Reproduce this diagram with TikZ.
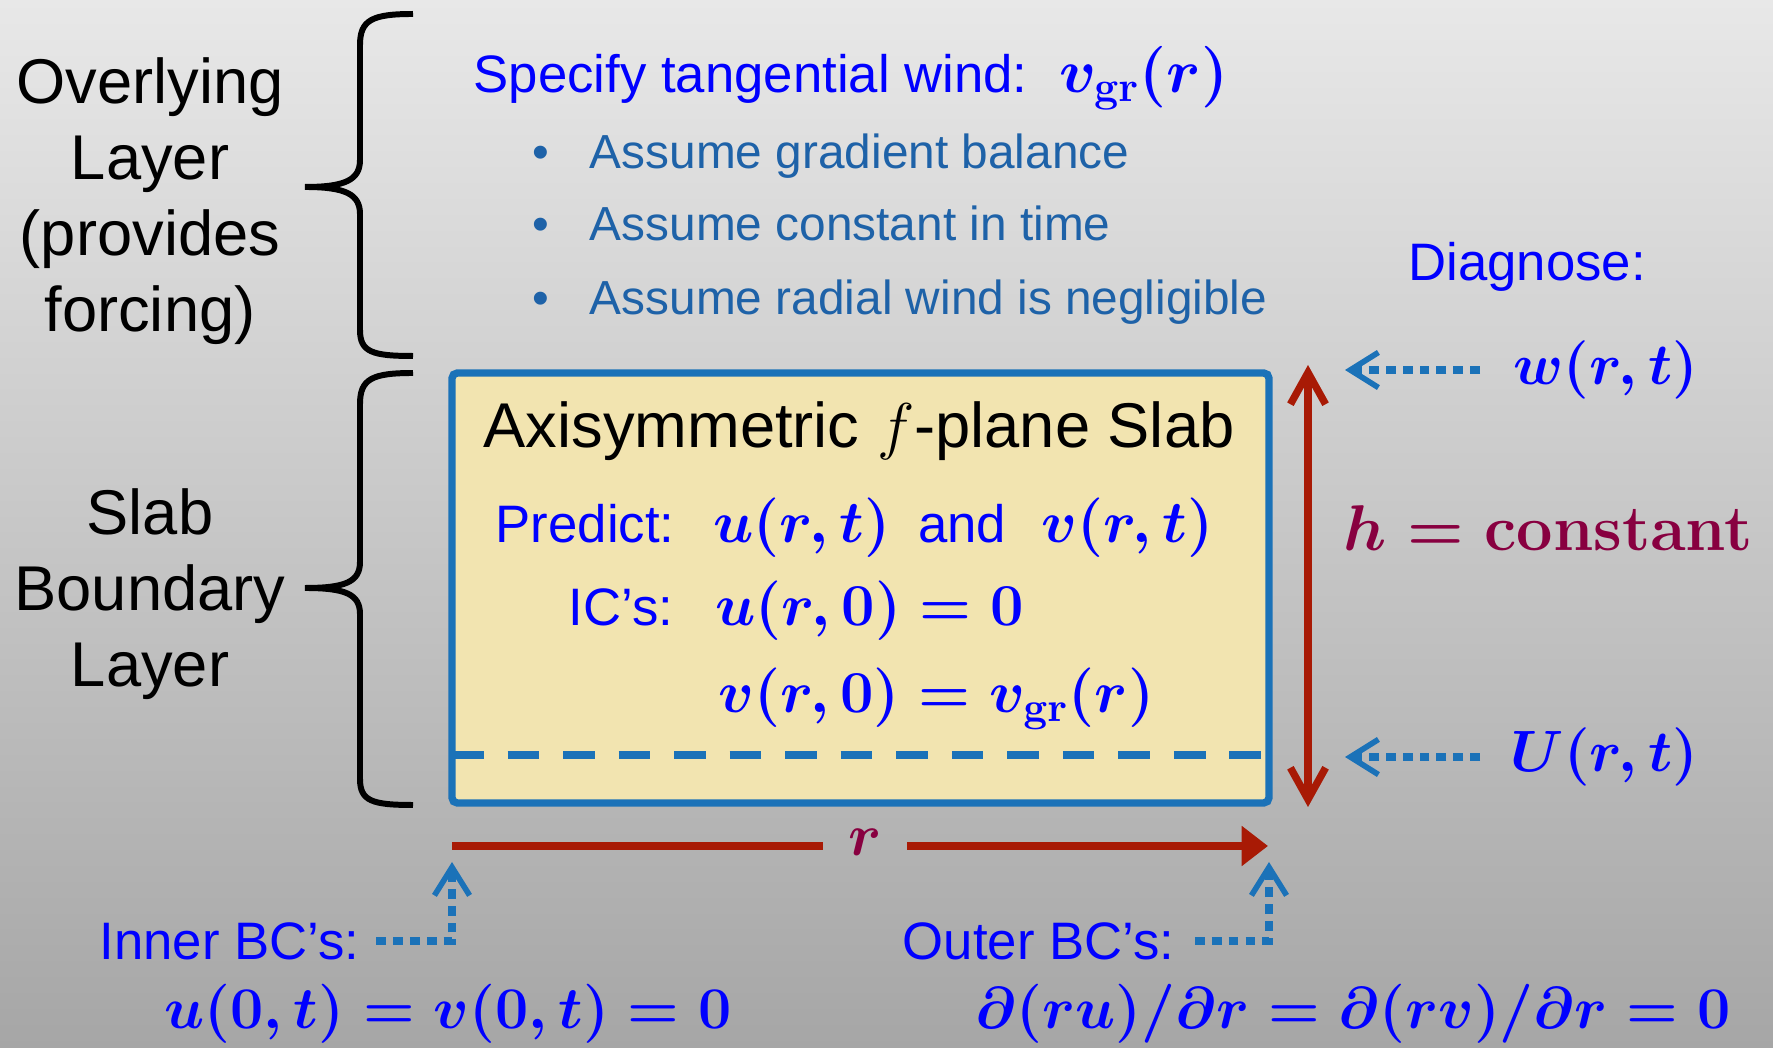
\documentclass[tikz,border=0pt]{standalone}
\usepackage{fix-cm}
\usepackage{amsmath}
\usepackage[no-math]{fontspec}
\setmainfont{Liberation Sans}
\usetikzlibrary{arrows.meta,positioning}
\definecolor{Blu}{HTML}{0000FF}
\definecolor{Steel}{HTML}{1E62A8}
\definecolor{Edge}{HTML}{1B72B8}
\definecolor{Sand}{HTML}{F2E4B0}
\definecolor{Rust}{HTML}{A81A05}
\definecolor{Wine}{HTML}{880040}
\definecolor{BgTop}{HTML}{E8E8E8}
\definecolor{BgBot}{HTML}{A6A6A6}
\newcommand{\mth}[2][16.9]{{\fontsize{#1}{20}\selectfont\boldmath$#2$}}

\begin{document}
\begin{tikzpicture}[x=0.1mm,y=-0.1mm,
    side/.style={font=\fontsize{18}{21.6}\selectfont,align=center,inner sep=0pt},
    lbl/.style={font=\fontsize{15}{18}\selectfont,text=Blu,inner sep=0pt},
    bul/.style={font=\fontsize{13.6}{16}\selectfont,text=Steel,inner sep=0pt,anchor=west},
    slab/.style={draw=Edge,fill=Sand,line width=2.1pt,rounded corners=1.5pt,
      minimum width=81.7mm,minimum height=43mm,outer sep=0pt},
    brc/.style={draw=black,line width=1.7pt},
    dotarr/.style={draw=Edge,line width=2pt,dash pattern=on 2.8pt off 2pt,
      -{Straight Barb[length=8pt,width=10pt,line width=1.6pt]}},
    redarr/.style={draw=Rust,line width=2.1pt},
    hgt/.style={redarr,>={Straight Barb[length=9pt,width=10pt]},<->}
  ]
    \useasboundingbox (0,0) rectangle (1773,1048);
    \shade[top color=BgTop,bottom color=BgBot] (0,0) rectangle (1773,1048);

    % left labels and braces
    \node[side] (over) at (150,201) {Overlying\\Layer\\(provides\\forcing)};
    \node[side] (slabname) at (150,594) {Slab\\Boundary\\Layer};
    \draw[brc] (413,14) .. controls (372,14) and (360,20) .. (360,45) -- (360,160)
      .. controls (360,180) and (345,187) .. (305,187)
      .. controls (345,187) and (360,194) .. (360,214) -- (360,330)
      .. controls (360,352) and (372,356) .. (413,356);
    \draw[brc] (413,373) .. controls (372,373) and (360,379) .. (360,404) -- (360,562)
      .. controls (360,582) and (345,588) .. (305,588)
      .. controls (345,588) and (360,594) .. (360,614) -- (360,779)
      .. controls (360,801) and (372,805) .. (413,805);

    % overlying layer
    \node[lbl,anchor=west] (spec) at (473,78)
      {Specify tangential wind:\hspace{9pt}\mth[17.5]{v_{\mathbf{gr}}(r)}};
    \node[bul] (b1) at (532,156) {\textbullet\hspace{11.5pt}Assume gradient balance};
    \node[bul] (b2) at (532,223) {\textbullet\hspace{11.5pt}Assume constant in time};
    \node[bul] (b3) at (532,302) {\textbullet\hspace{11.5pt}Assume radial wind is negligible};

    % slab
    \node[slab] (slab) at (860.5,588) {};
    \draw[draw=Edge,line width=2.4pt,dash pattern=on 9pt off 6.8pt]
      ([yshift=4.8mm]slab.south west) -- ([yshift=4.8mm]slab.south east);
    \node[inner sep=0pt,font=\fontsize{18}{21.6}\selectfont] (title) at (859,431)
      {Axisymmetric $f$-plane Slab};
    \node[lbl,anchor=west] (pred) at (495,528)
      {Predict:\hspace{11pt}\mth{u(r,t)}\hspace{8pt}and\hspace{10pt}\mth{v(r,t)}};
    \node[lbl,anchor=west] (icu) at (568,611) {IC’s:\hspace{12pt}\mth{u(r,0)=0}};
    \node[lbl,anchor=west] (icv) at (718,699) {\mth{v(r,0)=v_{\mathbf{gr}}(r)}};

    % depth
    \coordinate (htop) at (1308,365);
    \coordinate (hbot) at (1308,807);
    \draw[hgt] (hbot) -- (htop);
    \node[text=Wine,inner sep=0pt] (hlab) at (1548,528)
      {\mth[18.4]{h=\mathbf{constant}}};

    % diagnosed
    \node[lbl] (diag) at (1527,267) {Diagnose:};
    \node[lbl,anchor=west] (wlab) at (1513,370) {\mth[16.6]{w(r,t)}};
    \node[lbl,anchor=west] (Ulab) at (1510,757) {\mth[16.6]{U(r,t)}};
    \coordinate (wtip) at (1345,370);
    \coordinate (Utip) at (1345,757);
    \draw[dotarr] ([xshift=-3.3mm]wlab.west) -- (wtip);
    \draw[dotarr] ([xshift=-3mm]Ulab.west) -- (Utip);

    % radius
    \node[text=Wine,inner sep=0pt,inner xsep=2.5mm] (rlab) at (865,842) {\mth{r}};
    \coordinate (r0) at (452,846);
    \coordinate (r1) at (1268,846);
    \draw[redarr] (r0) -- (r0 -| rlab.west);
    \draw[redarr,-{Triangle[length=7.5pt,width=11pt]}] (r0 -| rlab.east) -- (r1);

    % boundary conditions
    \node[lbl,anchor=west] (ibc) at (99,941) {Inner BC’s:};
    \node[lbl,anchor=west] (obc) at (902,941) {Outer BC’s:};
    \coordinate (itip) at (452,862);
    \coordinate (otip) at (1269,862);
    \draw[dotarr] ([xshift=1.6mm]ibc.east) -| (itip);
    \draw[dotarr] ([xshift=2mm]obc.east) -| (otip);
    \node[lbl] (ieq) at (448,1014) {\mth[16.8]{u(0,t)=v(0,t)=0}};
    \node[lbl] (oeq) at (1353,1014)
      {\mth[16.8]{\partial(ru)/\partial r=\partial(rv)/\partial r=0}};
  \end{tikzpicture}
\end{document}
